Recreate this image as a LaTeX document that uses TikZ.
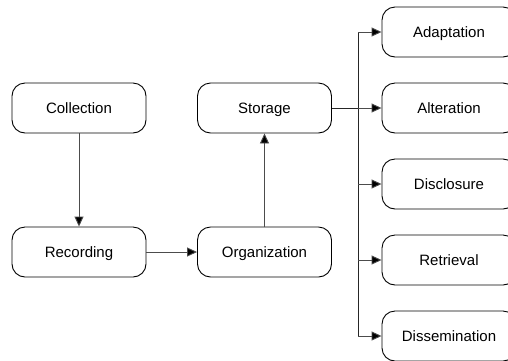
\documentclass[tikz,border=0pt]{standalone}
\usepackage{fontspec}
\setmainfont{Liberation Sans}
\usetikzlibrary{arrows.meta}
\tikzset{
  stage/.style={draw, rounded corners=13pt, minimum width=134pt, minimum height=50pt, line width=0.9pt, text height=13pt, text depth=3pt, font=\fontsize{15}{18}\selectfont},
  flow/.style={-{Triangle[length=10pt,width=9pt,fill=black]}, line width=0.9pt, draw=black!70},
  trunk/.style={line width=0.9pt, draw=black!85}
}
\begin{document}
\begin{tikzpicture}[x=1pt,y=-1pt]
  \useasboundingbox (0,0) rectangle (508,360);
  \fill[white] (0,0) rectangle (508,360);

  % Left column
  \node[stage] (collection) at (79,108) {Collection};
  \node[stage] (recording) at (79,252) {Recording};

  % Middle column
  \node[stage] (storage) at (264.5,108) {Storage};
  \node[stage] (organization) at (264.5,252) {Organization};

  % Right column (uses of stored data)
  \node[stage] (adaptation) at (449,32) {Adaptation};
  \node[stage] (alteration) at (449,108) {Alteration};
  \node[stage] (disclosure) at (449,184) {Disclosure};
  \node[stage] (retrieval) at (449,260) {Retrieval};
  \node[stage] (dissemination) at (449,336) {Dissemination};

  % Arrows
  \draw[flow] (collection) -- (recording);
  \draw[flow] (recording) -- (organization);
  \draw[flow] (organization) -- (storage);

  % Branching from storage
  \coordinate (split) at (358,108);
  \draw[trunk] (storage.east) -- (split);
  \draw[trunk] (adaptation.west -| split) -- (dissemination.west -| split);
  \foreach \n in {adaptation,alteration,disclosure,retrieval,dissemination}
    \draw[flow] (\n.west -| split) -- (\n.west);

\end{tikzpicture}
\end{document}
